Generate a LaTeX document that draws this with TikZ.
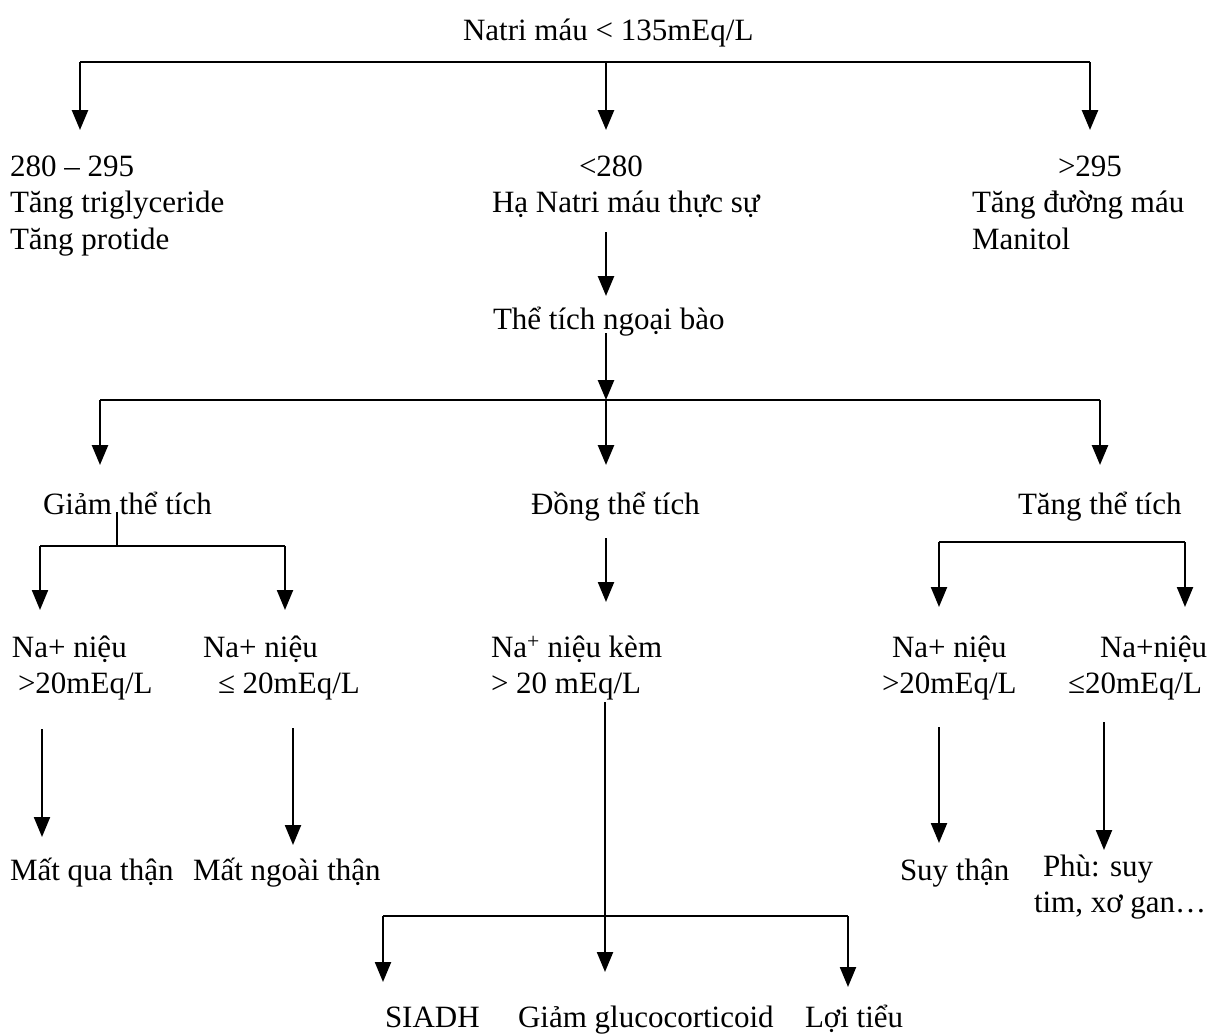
\documentclass[tikz,border=0pt]{standalone}
\usepackage{fontspec}
\setmainfont{Liberation Serif}
\usetikzlibrary{arrows.meta}
\begin{document}
\begin{tikzpicture}[x=1pt,y=-1pt,
  txt/.style={font=\fontsize{31}{36.5}\selectfont, inner sep=0pt, outer sep=0pt,
              anchor=north west, align=left, execute at begin node={\strut}},
  bar/.style={line width=2.6pt},
  thinbar/.style={line width=1.8pt},
  stub/.style={line width=1.3pt},
  arr/.style={line width=2.6pt, -{Triangle[width=16pt,length=20pt]}},
  thinarr/.style={line width=2.2pt, -{Triangle[width=16pt,length=20pt]}}]
\useasboundingbox (0,0) rectangle (1210,1034);

% ---------- text nodes (top = baseline - 25.5) ----------
\node[txt] (natri) at (463,14.5) {Natri máu < 135mEq/L};

\node[txt] (gia)   at (10,155.5)  {280 – 295\\Tăng triglyceride\\Tăng protide};
\node[txt] (that)  at (492,155.5) {\hspace*{87pt}<280\\Hạ Natri máu thực sự};
\node[txt] (cao)   at (972,155.5) {\hspace*{86pt}>295\\Tăng đường máu\\Manitol};

\node[txt] (ngbao) at (493,303.5) {Thể tích ngoại bào};

\node[txt] (giam)  at (43,488.5)   {Giảm thể tích};
\node[txt] (dong)  at (531,488.5)  {Đồng thể tích};
\node[txt] (tang)  at (1018,488.5) {Tăng thể tích};

\node[txt] (gA) at (12,635.5)   {Na+ niệu\\\hspace*{6pt}>20mEq/L};
\node[txt] (gB) at (203,635.5)  {Na+ niệu\\\hspace*{15pt}≤ 20mEq/L};
\node[txt] (dA) at (491,635.5)  {Na\textsuperscript{+} niệu kèm\\> 20 mEq/L};
\node[txt] (tA) at (882,635.5)  {\hspace*{10pt}Na+ niệu\\>20mEq/L};
\node[txt] (tB) at (1068,635.5) {\hspace*{32pt}Na+niệu\\≤20mEq/L};

\node[txt] (matqua)  at (10,854.5)   {Mất qua thận};
\node[txt] (matngoai) at (193,854.5) {Mất ngoài thận};
\node[txt] (suy)     at (900,854.5)  {Suy thận};
\node[txt] (phu)     at (1034,854.5) {\hspace*{9pt}Phù: suy\\tim, xơ gan…};

\node[txt] (siadh) at (385,1001.5) {SIADH};
\node[txt] (gluco) at (518,1001.5) {Giảm glucocorticoid};
\node[txt] (loi)   at (805,1001.5) {Lợi tiểu};

% ---------- branch points and arrow tips ----------
\coordinate (b1L) at (80,62);   \coordinate (b1M) at (606,62);  \coordinate (b1R) at (1090,62);
\coordinate (t1L) at (80,130);  \coordinate (t1M) at (606,130); \coordinate (t1R) at (1090,130);

\coordinate (hS) at (606,232);  \coordinate (hT) at (606,296);
\coordinate (vS) at (606,333);

\coordinate (b2L) at (100,400); \coordinate (b2M) at (606,400); \coordinate (b2R) at (1100,400);
\coordinate (t2L) at (100,465); \coordinate (t2M) at (606,465); \coordinate (t2R) at (1100,465);

\coordinate (gS)  at (117,512);
\coordinate (b3L) at (40,546);  \coordinate (b3M) at (117,546); \coordinate (b3R) at (285,546);
\coordinate (t3L) at (40,610);  \coordinate (t3R) at (285,610);

\coordinate (dS) at (606,538);  \coordinate (dT) at (606,602);

\coordinate (b4L) at (939,542); \coordinate (b4R) at (1185,542);
\coordinate (t4L) at (939,607); \coordinate (t4R) at (1185,607);

\coordinate (a1S) at (42,729);   \coordinate (a1T) at (42,837);
\coordinate (a2S) at (293,728);  \coordinate (a2T) at (293,845);
\coordinate (a3S) at (939,727);  \coordinate (a3T) at (939,843);
\coordinate (a4S) at (1104,722); \coordinate (a4T) at (1104,850);

\coordinate (cS)  at (605,702);
\coordinate (b5L) at (383,916);  \coordinate (b5R) at (848,916);
\coordinate (t5L) at (383,982);  \coordinate (t5M) at (605,972); \coordinate (t5R) at (848,987);

% ---------- first split ----------
\draw[bar] (b1L) -- (b1R);
\draw[arr] (b1L) -- (t1L);
\draw[arr] (b1M) -- (t1M);
\draw[arr] (b1R) -- (t1R);

% ---------- true hyponatremia ----------
\draw[arr] (hS) -- (hT);
\draw[arr] (vS) -- (b2M);

% ---------- volume split ----------
\draw[bar] (b2L) -- (b2R);
\draw[arr] (b2L) -- (t2L);
\draw[arr] (b2M) -- (t2M);
\draw[arr] (b2R) -- (t2R);

% ---------- hypovolemic ----------
\draw[stub] (gS) -- (b3M);
\draw[thinbar] (b3L) -- (b3R);
\draw[thinarr] (b3L) -- (t3L);
\draw[thinarr] (b3R) -- (t3R);
\draw[thinarr] (a1S) -- (a1T);
\draw[thinarr] (a2S) -- (a2T);

% ---------- euvolemic ----------
\draw[thinarr] (dS) -- (dT);
\draw[thinarr] (cS) -- (t5M);
\draw[thinbar] (b5L) -- (b5R);
\draw[thinarr] (b5L) -- (t5L);
\draw[thinarr] (b5R) -- (t5R);

% ---------- hypervolemic ----------
\draw[thinbar] (b4L) -- (b4R);
\draw[thinarr] (b4L) -- (t4L);
\draw[thinarr] (b4R) -- (t4R);
\draw[thinarr] (a3S) -- (a3T);
\draw[thinarr] (a4S) -- (a4T);
\end{tikzpicture}
\end{document}
